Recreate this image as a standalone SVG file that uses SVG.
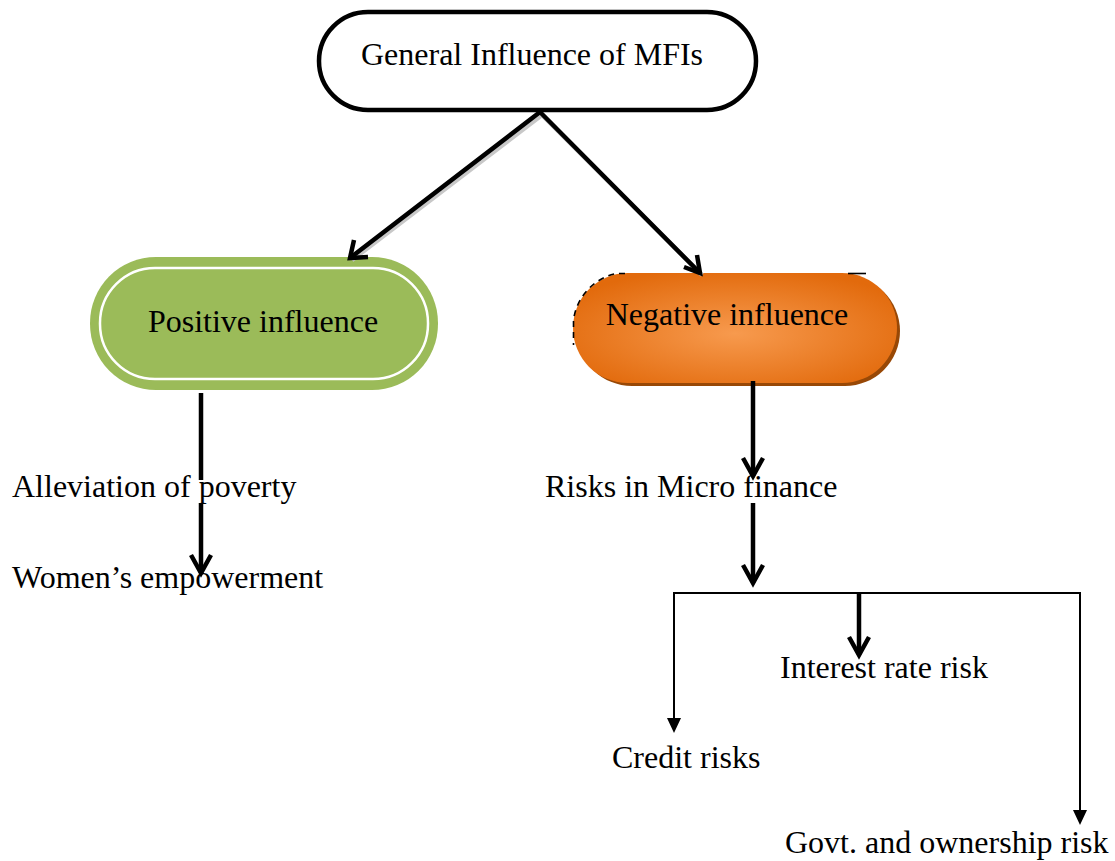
<svg xmlns="http://www.w3.org/2000/svg" width="1115" height="861" viewBox="0 0 1115 861">
  <style>
    .lbl { font-family: "Liberation Serif", "Times New Roman", serif; font-size: 32px; fill: #000; }
    .thick { fill: none; stroke: #000; stroke-width: 4.5; stroke-linecap: butt; stroke-linejoin: miter; }
    .shade { fill: none; stroke: #c8c8c8; stroke-width: 4.5; }
    .thin { fill: none; stroke: #000; stroke-width: 2; }
    .head { fill: #000; stroke: none; }
  </style>
  <defs>
    <radialGradient id="orangeFill" cx="50%" cy="55%" r="60%">
      <stop offset="0" stop-color="#F79A4E"/>
      <stop offset="1" stop-color="#E26A0C"/>
    </radialGradient>
  </defs>

  <rect width="1115" height="861" fill="#fff"/>

  <!-- nodes -->
  <g id="general">
    <rect x="319" y="12" width="437" height="98" rx="49" ry="49" fill="#fff" stroke="#000" stroke-width="4.5"/>
    <text class="lbl" x="532" y="65" text-anchor="middle">General Influence of MFIs</text>
  </g>

  <g id="positive">
    <rect x="90" y="257" width="348" height="133" rx="66" ry="66" fill="#9BBB59"/>
    <rect x="100" y="268" width="328" height="111" rx="55" ry="55" fill="none" stroke="#fff" stroke-width="2.5"/>
    <text class="lbl" x="263" y="332" text-anchor="middle">Positive influence</text>
  </g>

  <g id="negative">
    <rect x="577" y="276" width="323" height="110" rx="55" ry="55" fill="#984806"/>
    <rect x="573" y="273" width="324" height="110" rx="55" ry="55" fill="url(#orangeFill)"/>
    <path d="M625,273.5 L616,273.5 A55,55 0 0 0 573.5,320 L573.5,345" fill="none" stroke="#000" stroke-width="1.6" stroke-dasharray="6 5"/>
    <path d="M848,273.5 L866,273.5" fill="none" stroke="#000" stroke-width="1.6"/>
    <text class="lbl" x="727" y="325" text-anchor="middle">Negative influence</text>
  </g>

  <g id="alleviation">
    <text class="lbl" x="12" y="497">Alleviation of poverty</text>
  </g>
  <g id="women">
    <text class="lbl" x="12" y="588">Women’s empowerment</text>
  </g>
  <g id="risks">
    <text class="lbl" x="545" y="497">Risks in Micro finance</text>
  </g>
  <g id="interest">
    <text class="lbl" x="780" y="678">Interest rate risk</text>
  </g>
  <g id="credit">
    <text class="lbl" x="612" y="768">Credit risks</text>
  </g>
  <g id="govt">
    <text class="lbl" x="785" y="853">Govt. and ownership risk</text>
  </g>

  <!-- connectors -->
  <g id="connectors">
    <!-- from the top node to the two influence nodes -->
    <path class="shade" d="M542,115 L352,260 M542,115 L702,275"/>
    <path class="thick" d="M540,112 L350,258 M540,112 L700,273"/>
    <path class="thick" d="M354,240 L350,258 L368,257"/>
    <path class="thick" d="M684,267 L700,273 L697,255"/>

    <!-- positive branch -->
    <path class="thick" d="M201,393 L201,480 M201,503 L201,573"/>
    <path class="thick" d="M191,555 L201,573 L211,555"/>

    <!-- negative branch -->
    <path class="thick" d="M753,381 L753,476"/>
    <path class="thick" d="M743,458 L753,476 L763,458"/>
    <path class="thick" d="M753,503 L753,583"/>
    <path class="thick" d="M743,565 L753,583 L763,565"/>

    <!-- risk bracket -->
    <path class="thin" d="M674,720 L674,593 L1080,593 L1080,812"/>
    <polygon class="head" points="667,718 681,718 674,733"/>
    <polygon class="head" points="1073,810 1087,810 1080,825"/>
    <path class="thick" d="M859,593 L859,655"/>
    <path class="thick" d="M849,637 L859,655 L869,637"/>
  </g>
</svg>
